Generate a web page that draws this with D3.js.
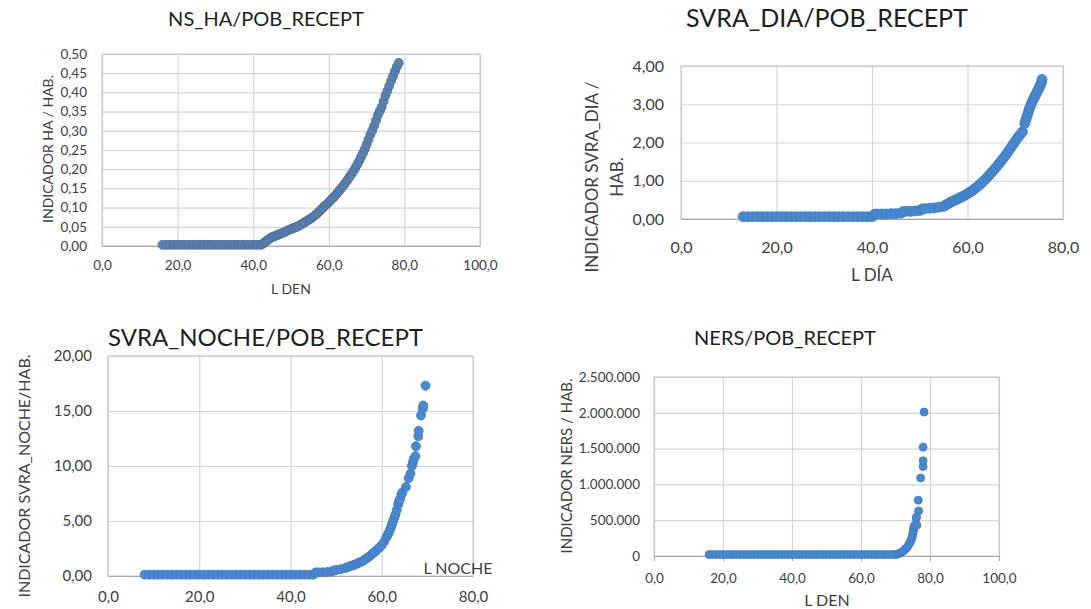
<!DOCTYPE html>
<html>
<head>
<meta charset="utf-8">
<script src="https://cdn.jsdelivr.net/npm/d3@7"></script>
<style>
  body { margin: 0; background: #fff; }
  svg { display: block; }
  text { font-family: Lato, "Open Sans", sans-serif; }
</style>
</head>
<body>
<svg id="chart" width="1091" height="609"></svg>
<script>
// [L DEN, indicador HA / hab.]
const nsHa = [
  [16,0.003],[17,0.003],[18,0.003],[19,0.003],[20,0.003],[21,0.003],[22,0.003],[23,0.003],[24,0.003],
  [25,0.003],[26,0.003],[27,0.003],[28,0.003],[29,0.003],[30,0.003],[31,0.003],[32,0.003],[33,0.003],
  [34,0.003],[35,0.003],[36,0.003],[37,0.003],[38,0.003],[39,0.003],[40,0.003],[41,0.003],[42,0.003],
  [42.5,0.005],[43,0.009],[43.5,0.013],[44,0.017],[44.5,0.020],[45,0.023],[45.5,0.025],[46,0.027],
  [46.5,0.029],[47,0.031],[47.5,0.033],[48,0.035],[48.5,0.037],[49,0.040],[49.5,0.042],[50,0.044],
  [50.5,0.046],[51,0.048],[51.5,0.050],[52,0.052],[52.5,0.055],[53,0.058],[53.5,0.061],[54,0.064],
  [54.5,0.067],[55,0.070],[55.5,0.073],[56,0.077],[56.5,0.081],[57,0.085],[57.5,0.090],[58,0.095],
  [58.5,0.100],[59,0.105],[59.5,0.109],[60,0.114],[60.5,0.119],[61,0.124],[61.5,0.129],[62,0.135],
  [62.5,0.141],[63,0.147],[63.5,0.153],[64,0.159],[64.5,0.166],[65,0.173],[65.5,0.180],[66,0.187],
  [66.5,0.195],[67,0.203],[67.5,0.212],[68,0.221],[68.5,0.231],[69,0.241],[69.5,0.252],[70,0.264],
  [70.5,0.277],[71,0.290],[71.5,0.301],[72,0.313],[72.5,0.327],[73,0.341],[73.5,0.352],[74,0.362],
  [74.5,0.377],[75,0.392],[75.5,0.404],[76,0.417],[76.5,0.430],[77,0.442],[77.5,0.455],[78,0.467],
  [78.5,0.477]
];

// [L DIA, indicador SVRA_DIA / hab.]
const svraDia = [
  [13,0.06],[14,0.06],[15,0.06],[16,0.06],[17,0.06],[18,0.06],[19,0.06],[20,0.06],[21,0.06],[22,0.06],
  [23,0.06],[24,0.06],[25,0.06],[26,0.06],[27,0.06],[28,0.06],[29,0.06],[30,0.06],[31,0.06],[32,0.06],
  [33,0.06],[34,0.06],[35,0.06],[36,0.06],[37,0.06],[38,0.06],[39,0.06],[40,0.06],
  [40.5,0.12],[41,0.13],[42,0.13],[43,0.13],[44,0.14],[45,0.14],[46,0.15],[46.5,0.19],[47,0.20],
  [48,0.20],[49,0.21],[50,0.22],[50.5,0.26],[51,0.27],[52,0.28],[53,0.29],[54,0.31],[55,0.33],
  [55.5,0.37],[56,0.40],[56.5,0.44],[57,0.47],[57.5,0.50],[58,0.53],[58.5,0.56],[59,0.59],[59.5,0.62],
  [60,0.66],[60.5,0.70],[61,0.74],[61.5,0.79],[62,0.84],[62.5,0.89],[63,0.95],[63.5,1.01],[64,1.07],
  [64.5,1.14],[65,1.21],[65.5,1.28],[66,1.35],[66.5,1.43],[67,1.51],[67.5,1.59],[68,1.67],[68.5,1.76],
  [69,1.85],[69.5,1.94],[70,2.03],[70.5,2.12],[71,2.20],[71.5,2.28],[72,2.50],[72.25,2.60],[72.5,2.70],
  [72.75,2.80],[73,2.90],[73.25,2.98],[73.5,3.05],[73.75,3.12],[74,3.18],[74.25,3.24],[74.5,3.30],
  [74.75,3.37],[75,3.43],[75.25,3.50],[75.5,3.57],[75.6,3.65]
];

// [L NOCHE, indicador SVRA_NOCHE / hab.]
const svraNoche = [
  [8,0.12],[9,0.12],[10,0.12],[11,0.12],[12,0.12],[13,0.12],[14,0.12],[15,0.12],[16,0.12],[17,0.12],
  [18,0.12],[19,0.12],[20,0.12],[21,0.12],[22,0.12],[23,0.12],[24,0.12],[25,0.12],[26,0.12],[27,0.12],
  [28,0.12],[29,0.12],[30,0.12],[31,0.12],[32,0.12],[33,0.12],[34,0.12],[35,0.12],[36,0.12],[37,0.12],
  [38,0.12],[39,0.12],[40,0.12],[41,0.12],[42,0.12],[43,0.12],[44,0.12],[45,0.12],
  [45.5,0.32],[46,0.33],[47,0.34],[48,0.36],[49,0.40],[49.5,0.50],[50,0.55],[51,0.62],[52,0.72],
  [52.5,0.80],[53,0.88],[53.5,0.95],[54,1.02],[54.5,1.10],[55,1.20],[55.5,1.30],[56,1.40],[56.5,1.55],
  [57,1.70],[57.5,1.85],[58,2.05],[58.5,2.20],[59,2.40],[59.5,2.60],[60,2.80],[60.5,3.10],[61,3.50],
  [61.25,3.70],[61.5,3.90],[61.75,4.15],[62,4.40],[62.25,4.70],[62.5,5.00],[62.75,5.30],[63,5.60],
  [63.3,6.00],[63.6,6.50],[63.8,6.80],[64,7.00],[64.3,7.40],[64.5,7.60],[65.3,8.10],[65.9,8.90],
  [66.3,9.30],[66.6,10.00],[66.8,10.30],[67,10.60],[67.4,10.90],[67.5,11.80],[68,12.70],[68.1,13.20],
  [68.6,14.60],[69,15.20],[69.1,15.50],[69.6,17.30]
];

// [L DEN, indicador NERS / hab.]
const ners = [
  [16,20000],[17,20000],[18,20000],[19,20000],[20,20000],[21,20000],[22,20000],[23,20000],[24,20000],
  [25,20000],[26,20000],[27,20000],[28,20000],[29,20000],[30,20000],[31,20000],[32,20000],[33,20000],
  [34,20000],[35,20000],[36,20000],[37,20000],[38,20000],[39,20000],[40,20000],[41,20000],[42,20000],
  [43,20000],[44,20000],[45,20000],[46,20000],[47,20000],[48,20000],[49,20000],[50,20000],[51,20000],
  [52,20000],[53,20000],[54,20000],[55,20000],[56,20000],[57,20000],[58,20000],[59,20000],[60,20000],
  [61,20000],[62,20000],[63,20000],[64,20000],[65,20000],[66,20000],[67,20000],[68,20000],[69,20000],
  [70,20000],[70.5,25000],[71,35000],[71.5,45000],[72,60000],[72.5,80000],[73,105000],[73.5,130000],
  [74,170000],[74.3,200000],[74.6,230000],[74.8,260000],[75,300000],[75.1,330000],[75.2,360000],
  [75.3,390000],[75.4,410000],[75.5,430000],[76.2,430000],[76,530000],[76.1,545000],[76.7,630000],
  [76.6,780000],[77.3,1090000],[78,1250000],[78,1330000],[78,1520000],[78.3,2010000]
];

const ticks100 = [0, 20, 40, 60, 80, 100];
const ticks80 = [0, 20, 40, 60, 80];
const ticksHa = [0, 0.05, 0.1, 0.15, 0.2, 0.25, 0.3, 0.35, 0.4, 0.45, 0.5];
const ticksDia = [0, 1, 2, 3, 4];
const ticksNoche = [0, 5, 10, 15, 20];
const ticksNers = [0, 500000, 1000000, 1500000, 2000000, 2500000];

const es = d3.formatLocale({decimal: ',', thousands: '.', grouping: [3], currency: ['', ' €']});
const fmt1 = es.format(',.1f');
const fmt2 = es.format(',.2f');
const fmtInt = es.format(',d');

const svg = d3.select('#chart');

const panels = [
  {data: nsHa, xTicks: ticks100, yTicks: ticksHa, yFmt: fmt2,
   box: {l: 102, r: 480, t: 54, b: 246}, color: '#5a80ad', edge: '#4b6f9a', rad: 4.5,
   title: 'NS_HA/POB_RECEPT', titlePos: [266, 21], titleSize: 20, titleAnchor: 'middle',
   tickSize: 13.5, xLabY: 265, yPad: 15, tick: 0,
   xLabel: 'L DEN', xLabelPos: [291, 290], xLabelSize: 14,
   yLabel: ['INDICADOR HA / HAB.'], yLabelPos: [48, 149], yLabelSize: 14},
  {data: svraDia, xTicks: ticks80, yTicks: ticksDia, yFmt: fmt2,
   box: {l: 681, r: 1063, t: 66, b: 219}, color: '#4a89cf', edge: '#3d7abf', rad: 5,
   title: 'SVRA_DIA/POB_RECEPT', titlePos: [827, 21], titleSize: 25, titleAnchor: 'middle',
   tickSize: 16, xLabY: 247, yPad: 17, tick: 0,
   xLabel: 'L DÍA', xLabelPos: [872, 277], xLabelSize: 17,
   yLabel: ['INDICADOR SVRA_DIA /', 'HAB.'], yLabelPos: [592, 177], yLabelSize: 17},
  {data: svraNoche, xTicks: ticks80, yTicks: ticksNoche, yFmt: fmt2,
   box: {l: 108, r: 473, t: 356, b: 576}, color: '#4a89cf', edge: '#3d7abf', rad: 4.5,
   title: 'SVRA_NOCHE/POB_RECEPT', titlePos: [108, 340], titleSize: 24, titleAnchor: 'start',
   tickSize: 15, xLabY: 597, yPad: 16, tick: 0,
   xLabel: 'L NOCHE', xLabelPos: [458, 570], xLabelSize: 16,
   yLabel: ['INDICADOR SVRA_NOCHE/HAB.'], yLabelPos: [24, 476], yLabelSize: 16},
  {data: ners, xTicks: ticks100, yTicks: ticksNers, yFmt: fmtInt,
   box: {l: 654, r: 999, t: 377, b: 556}, color: '#4a89cf', edge: '#3d7abf', rad: 4,
   title: 'NERS/POB_RECEPT', titlePos: [785, 340], titleSize: 20, titleAnchor: 'middle',
   tickSize: 13.5, xLabY: 578, yPad: 14, tick: 5,
   xLabel: 'L DEN', xLabelPos: [827, 602], xLabelSize: 16,
   yLabel: ['INDICADOR NERS / HAB.'], yLabelPos: [567, 466], yLabelSize: 15}
];

const drawPanel = (p) => {
  const b = p.box;
  const x = d3.scaleLinear().domain(d3.extent(p.xTicks)).range([b.l, b.r]);
  const y = d3.scaleLinear().domain(d3.extent(p.yTicks)).range([b.b, b.t]);
  const g = svg.append('g');

  // grid
  g.append('g')
    .attr('transform', `translate(0,${b.b})`)
    .call(d3.axisBottom(x).tickValues(p.xTicks).tickSize(-(b.b - b.t)).tickFormat(''))
    .call(s => s.select('.domain').remove())
    .selectAll('line').attr('stroke', '#d4d4d4').attr('stroke-width', 1.2);
  g.append('g')
    .attr('transform', `translate(${b.l},0)`)
    .call(d3.axisLeft(y).tickValues(p.yTicks).tickSize(-(b.r - b.l)).tickFormat(''))
    .call(s => s.select('.domain').remove())
    .selectAll('line').attr('stroke', '#d4d4d4').attr('stroke-width', 1.2);

  g.append('rect')
    .attr('x', b.l).attr('y', b.t)
    .attr('width', b.r - b.l).attr('height', b.b - b.t)
    .attr('fill', 'none').attr('stroke', '#c4c4c4');

  // base line + tick labels
  const xa = g.append('g')
    .attr('transform', `translate(0,${b.b})`)
    .call(d3.axisBottom(x).tickValues(p.xTicks).tickSize(p.tick).tickFormat(fmt1));
  xa.select('.domain').attr('stroke', '#a6a6a6');
  xa.selectAll('line').attr('stroke', '#a6a6a6');
  xa.selectAll('text')
    .attr('y', p.xLabY - b.b).attr('dy', '0.35em')
    .attr('font-size', p.tickSize).attr('fill', '#404040');

  const ya = g.append('g')
    .attr('transform', `translate(${b.l},0)`)
    .call(d3.axisLeft(y).tickValues(p.yTicks).tickSize(0).tickPadding(p.yPad).tickFormat(p.yFmt));
  ya.select('.domain').remove();
  ya.selectAll('text').attr('font-size', p.tickSize).attr('fill', '#404040');

  // points
  g.append('g')
    .selectAll('circle')
    .data(p.data)
    .enter()
    .append('circle')
      .attr('cx', d => x(d[0]))
      .attr('cy', d => y(d[1]))
      .attr('r', p.rad)
      .attr('fill', p.color)
      .attr('stroke', p.edge)
      .attr('stroke-width', 0.8);

  // titles
  g.append('text')
    .attr('x', p.titlePos[0]).attr('y', p.titlePos[1])
    .attr('text-anchor', p.titleAnchor).attr('dominant-baseline', 'middle')
    .attr('font-size', p.titleSize).attr('fill', '#1e1e1e')
    .text(p.title);

  g.append('text')
    .attr('x', p.xLabelPos[0]).attr('y', p.xLabelPos[1])
    .attr('text-anchor', 'middle').attr('dominant-baseline', 'middle')
    .attr('font-size', p.xLabelSize).attr('fill', '#404040')
    .text(p.xLabel);

  const yl = g.append('text')
    .attr('transform', `translate(${p.yLabelPos[0]},${p.yLabelPos[1]}) rotate(-90)`)
    .attr('text-anchor', 'middle')
    .attr('font-size', p.yLabelSize).attr('fill', '#404040');
  p.yLabel.forEach((line, i) => {
    yl.append('tspan')
      .attr('x', 0)
      .attr('dy', i === 0 ? '0.35em' : '1.45em')
      .text(line);
  });
};

panels.forEach(drawPanel);
</script>
</body>
</html>
